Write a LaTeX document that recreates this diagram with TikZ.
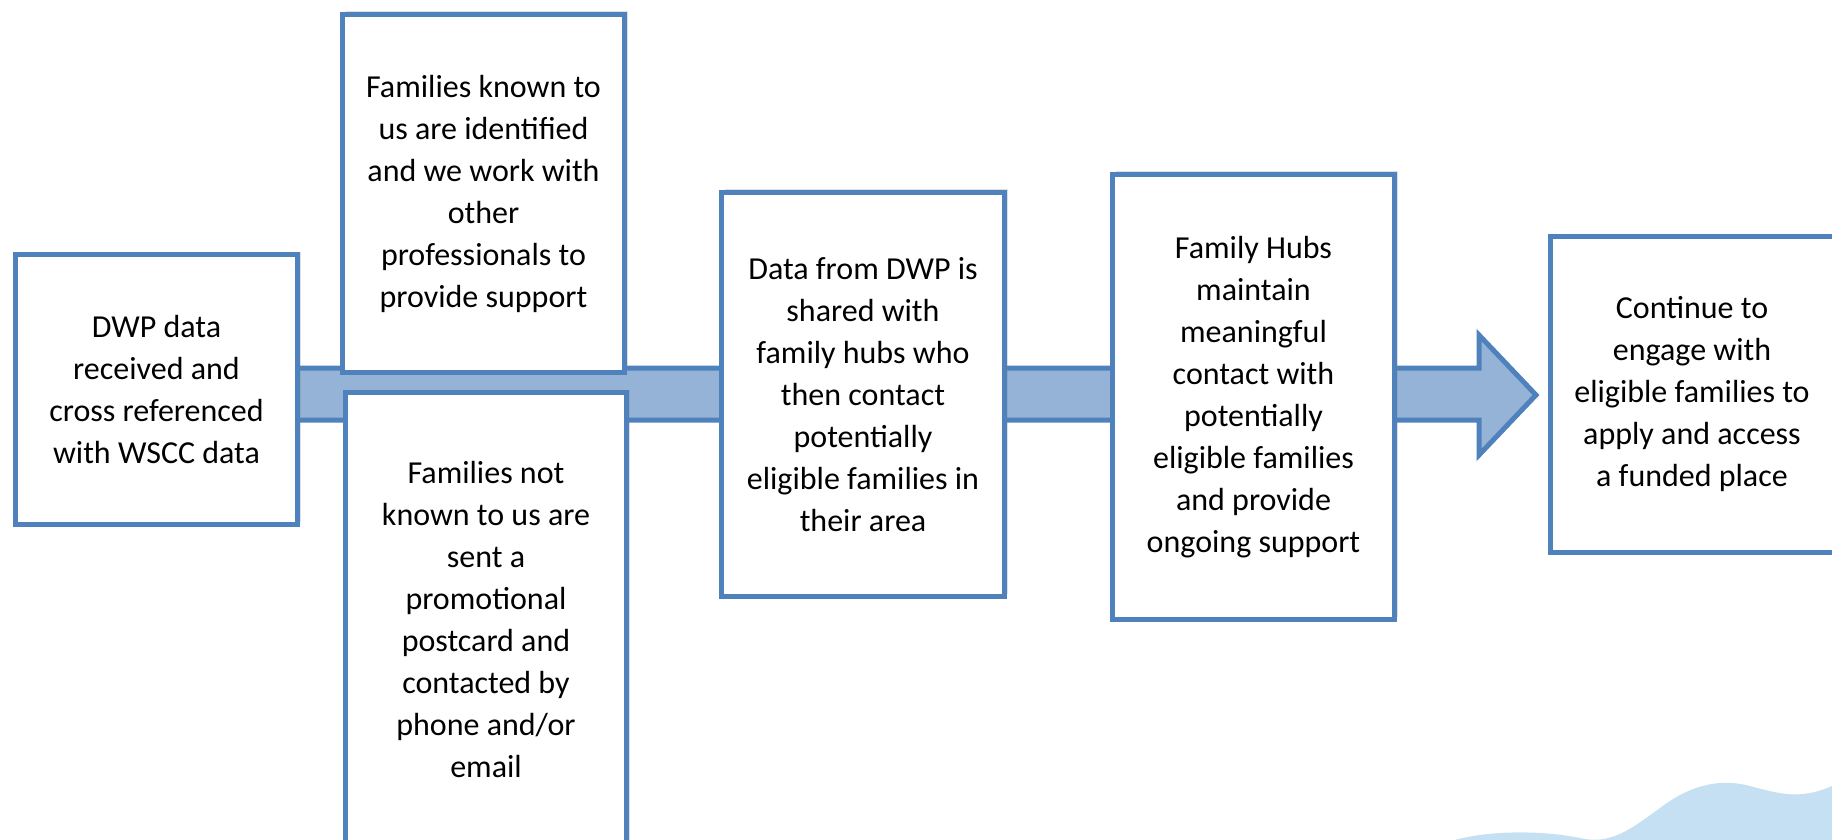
\documentclass[tikz,border=0pt]{standalone}
\usepackage{fontspec}
\setmainfont{Carlito}
\usetikzlibrary{shadows}
\definecolor{boxblue}{HTML}{4F81BD}
\definecolor{bandfill}{HTML}{95B3D7}
\definecolor{wave}{HTML}{C5E0F2}
\tikzset{
  stepbox/.style={draw=boxblue, line width=5pt, fill=white, rectangle,
    align=center, inner sep=0pt, font=\fontsize{32}{42}\selectfont,
    drop shadow={opacity=0.25, shadow xshift=3pt, shadow yshift=3pt}},
  band/.style={draw=boxblue, line width=5pt, fill=bandfill, line join=miter}
}
\begin{document}
\begin{tikzpicture}[x=1pt,y=-1pt]
\useasboundingbox (0,0) rectangle (1832,840);
\clip (0,0) rectangle (1832,840);
% wave
\fill[wave] (1440,845) .. controls (1470,832) and (1530,828) .. (1580,838)
  .. controls (1610,845) and (1630,830) .. (1660,808)
  .. controls (1690,785) and (1720,778) .. (1750,786)
  .. controls (1780,794) and (1800,800) .. (1832,786)
  -- (1832,845) -- cycle;
% block arrow band
\coordinate (tip) at (1536,395);
\draw[band] (280,368) -- (1479,368) -- (1479,335) -- (tip) -- (1479,455) -- (1479,420) -- (280,420) -- cycle;
% boxes
\node[stepbox, minimum width=282pt, minimum height=270pt] (b1) at (156.5,389.5)
  {DWP data\\received and\\cross referenced\\with WSCC data};
\node[stepbox, minimum width=282pt, minimum height=358pt] (b2) at (483.5,193.5)
  {Families known to\\us are identified\\and we work with\\other\\professionals to\\provide support};
\node[stepbox, minimum width=281pt, minimum height=455pt] (b3) at (486,620)
  {Families not\\known to us are\\sent a\\promotional\\postcard and\\contacted by\\phone and/or\\email};
\node[stepbox, minimum width=283pt, minimum height=404pt] (b4) at (863,394.5)
  {Data from DWP is\\shared with\\family hubs who\\then contact\\potentially\\eligible families in\\their area};
\node[stepbox, minimum width=282pt, minimum height=445pt] (b5) at (1253.5,397)
  {Family Hubs\\maintain\\meaningful\\contact with\\potentially\\eligible families\\and provide\\ongoing support};
\node[stepbox, minimum width=284pt, minimum height=316pt] (b6) at (1692,394.5)
  {Continue to\\engage with\\eligible families to\\apply and access\\a funded place};
\end{tikzpicture}
\end{document}
